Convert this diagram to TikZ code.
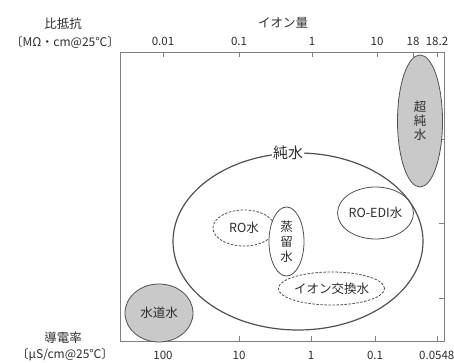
\documentclass[tikz,border=0pt]{standalone}
\usepackage{fontspec}
\setmainfont{Noto Sans CJK JP}
\usetikzlibrary{shapes.geometric}
\definecolor{txt}{HTML}{2E2E2E}
\definecolor{frm}{HTML}{808080}
\definecolor{edge}{HTML}{505050}
\definecolor{gfill}{HTML}{C9C9C9}
\tikzset{
  lbl/.style={text=txt,font=\fontsize{12.5}{14}\selectfont,inner sep=0pt},
  num/.style={text=txt,font=\fontsize{11.5}{13}\selectfont,inner sep=0pt},
  ell/.style={ellipse,draw=edge,line width=0.8pt,inner sep=0pt,text=txt,font=\fontsize{12.5}{14}\selectfont,align=center},
  grayell/.style={ell,fill=gfill},
  dashell/.style={ell,dashed,dash pattern=on 2.5pt off 1.5pt},
  tickline/.style={draw=frm,line width=0.7pt}
}
\begin{document}
\begin{tikzpicture}[x=1pt,y=-1pt]
\useasboundingbox (0,0) rectangle (454,363);
\fill[white] (0,0) rectangle (454,363);
% frame
\draw[frm,line width=0.8pt] (120,52) rectangle (444,341);
% top ticks
\foreach \xx in {163,239,312,377,413,437} \draw[tickline] (\xx,52) -- (\xx,57);
% bottom ticks
\foreach \xx in {163,239,311,375,437} \draw[tickline] (\xx,341) -- (\xx,336);
% right ticks
\foreach \yy in {139,223,298} \draw[tickline] (444,\yy) -- (439,\yy);
% header texts
\node[lbl] (hres) at (63,24) {比抵抗};
\node[lbl,font=\fontsize{12}{14}\selectfont] (hresu) at (65,42) {〔MΩ・cm@25℃〕};
\node[lbl] (hion) at (283,23) {イオン量};
\node[num] (t1) at (163,41) {0.01};
\node[num] (t2) at (239,41) {0.1};
\node[num] (t3) at (312,41) {1};
\node[num] (t4) at (377,41) {10};
\node[num] (t5) at (413,41) {18};
\node[num] (t6) at (437,41) {18.2};
% footer texts
\node[lbl] (hcon) at (63,337.5) {導電率};
\node[lbl,font=\fontsize{12}{14}\selectfont] (hconu) at (65,355) {〔μS/cm@25℃〕};
\node[num] (b1) at (163,355) {100};
\node[num] (b2) at (239,355) {10};
\node[num] (b3) at (311,355) {1};
\node[num] (b4) at (375,355) {0.1};
\node[num,anchor=west] (b5) at (419,355) {0.0548};
% ellipses
\node[grayell,minimum width=45pt,minimum height=132pt] (ultra) at (420,121) {超\\純\\水};
\node[grayell,minimum width=68pt,minimum height=58pt] (tap) at (159,313) {水道水};
\node[ell,line width=1.2pt,minimum width=250pt,minimum height=177pt] (pure) at (298,241.5) {};
\node[text=txt,fill=white,inner sep=1pt,font=\fontsize{15}{17}\selectfont] (purel) at (288,153) {純水};
\node[dashell,minimum width=62pt,minimum height=36pt] (ro) at (244,228) {RO水};
\node[ell,fill=white,minimum width=35pt,minimum height=69pt,font=\fontsize{12.5}{15}\selectfont] (dist) at (286.5,241.5) {蒸\\留\\水};
\node[ell,minimum width=75pt,minimum height=52pt] (roedi) at (375.5,213) {RO-EDI水};
\node[dashell,fill=white,minimum width=105pt,minimum height=33pt] (ionx) at (331.5,288.5) {イオン交換水};
\end{tikzpicture}
\end{document}
